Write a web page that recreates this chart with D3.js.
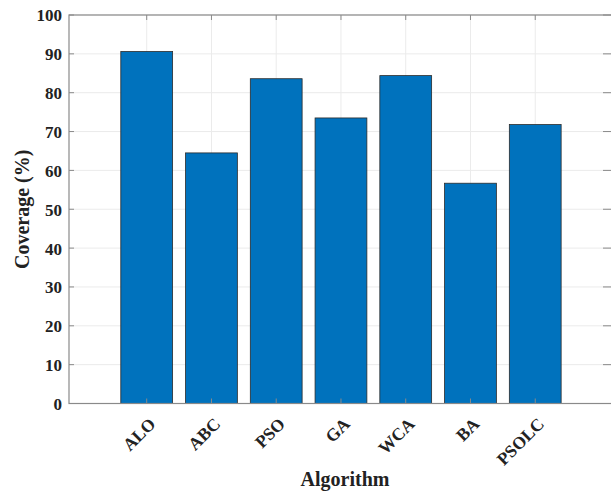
<!DOCTYPE html>
<html><head><meta charset="utf-8">
<script src="https://cdn.jsdelivr.net/npm/d3@7/dist/d3.min.js"></script>
<style>body{margin:0;background:#fff}</style>
</head><body><svg id="c" width="611" height="492"></svg>
<script>
const categories = ["ALO","ABC","PSO","GA","WCA","BA","PSOLC"];
const coverage = [90.6, 64.5, 83.6, 73.5, 84.4, 56.7, 71.8];
const yTicks = [0,10,20,30,40,50,60,70,80,90,100];

const svg = d3.select("#c");
const L = 69, R = 611, T = 15, B = 403.5;
const x = d3.scaleLinear().domain([-0.2, 8.17]).range([L, R]);
const y = d3.scaleLinear().domain([0, 100]).range([B, T]);
const font = "'Liberation Serif','Times New Roman',serif";
const idx = categories.map((d,i)=>i+1);

// grid
const g = svg.append("g");
g.selectAll(".gy").data(yTicks).join("line")
  .attr("x1", L).attr("x2", R).attr("y1", d=>y(d)).attr("y2", d=>y(d))
  .attr("stroke", "#ebebeb").attr("stroke-width", 1);
g.selectAll(".gx").data(idx).join("line")
  .attr("x1", d=>x(d)).attr("x2", d=>x(d)).attr("y1", T).attr("y2", B)
  .attr("stroke", "#ebebeb").attr("stroke-width", 1);

// bars
const bw = x(0.8) - x(0);
svg.selectAll(".bar").data(coverage).join("rect")
  .attr("x", (d,i)=>x(i+1) - bw/2).attr("width", bw)
  .attr("y", d=>y(d)).attr("height", d=>B - y(d))
  .attr("fill", "#0072BD").attr("stroke", "#2b2b2b").attr("stroke-width", 0.8);

// frame
const ax = "#8a8a8a";
svg.append("rect").attr("x", L).attr("y", T).attr("width", R - L + 5).attr("height", B - T)
  .attr("fill", "none").attr("stroke", ax).attr("stroke-width", 1.2);

// ticks (inward)
const tl = 5;
svg.selectAll(".tyl").data(yTicks).join("line")
  .attr("x1", L).attr("x2", L + tl).attr("y1", d=>y(d)).attr("y2", d=>y(d)).attr("stroke", ax);
svg.selectAll(".tyr").data(yTicks).join("line")
  .attr("x1", R - 3 - tl).attr("x2", R).attr("y1", d=>y(d)).attr("y2", d=>y(d)).attr("stroke", ax);
svg.selectAll(".txb").data(idx).join("line")
  .attr("x1", d=>x(d)).attr("x2", d=>x(d)).attr("y1", B).attr("y2", B - tl).attr("stroke", ax);
svg.selectAll(".txt").data(idx).join("line")
  .attr("x1", d=>x(d)).attr("x2", d=>x(d)).attr("y1", T).attr("y2", T + tl).attr("stroke", ax);

// y tick labels
svg.selectAll(".yl").data(yTicks).join("text")
  .attr("x", 62).attr("y", d=>y(d)).attr("dy", "0.38em")
  .attr("text-anchor", "end").attr("font-family", font).attr("font-weight", "bold")
  .attr("font-size", 17).attr("fill", "#222").text(d=>d);

// x tick labels rotated
svg.selectAll(".xl").data(categories).join("text")
  .attr("transform", (d,i)=>`translate(${x(i+1)+10},${425}) rotate(-45)`)
  .attr("text-anchor", "end").attr("font-family", font).attr("font-weight", "bold")
  .attr("font-size", 17.5).attr("fill", "#222").text(d=>d);

// axis titles
svg.append("text").attr("x", 345).attr("y", 486).attr("text-anchor", "middle")
  .attr("font-family", font).attr("font-weight", "bold").attr("font-size", 20)
  .attr("fill", "#222").text("Algorithm");
svg.append("text").attr("transform", `translate(29,${(T+B)/2}) rotate(-90)`)
  .attr("text-anchor", "middle")
  .attr("font-family", font).attr("font-weight", "bold").attr("font-size", 20)
  .attr("fill", "#222").text("Coverage (%)");
</script></body></html>
